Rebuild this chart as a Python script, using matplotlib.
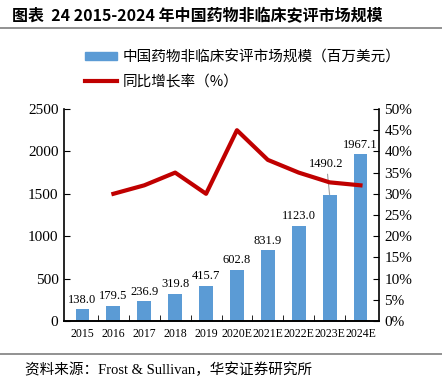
import matplotlib
matplotlib.use("Agg")
import matplotlib.pyplot as plt
from matplotlib.lines import Line2D

plt.rcParams['font.family'] = ['Liberation Serif', 'Noto Sans CJK SC']

years = ['2015', '2016', '2017', '2018', '2019', '2020E', '2021E', '2022E', '2023E', '2024E']
market = [138.0, 179.5, 236.9, 319.8, 415.7, 602.8, 831.9, 1123.0, 1490.2, 1967.1]
growth = [None, 30.0, 32.0, 35.0, 30.0, 45.0, 38.0, 35.0, 32.7, 32.0]

bar_label = '中国药物非临床安评市场规模（百万美元）'
line_label = '同比增长率（%）'
title = '图表  24 2015-2024 年中国药物非临床安评市场规模'
source = '资料来源：Frost & Sullivan，华安证券研究所'

cjk = ['Noto Sans CJK SC', 'DejaVu Sans']
serif_cjk = ['Liberation Serif', 'Noto Sans CJK SC']

fig = plt.figure(figsize=(4.42, 3.86), dpi=100)
ax = fig.add_axes([64 / 442, 1 - 321 / 386, (379 - 64) / 442, (321 - 109) / 386])
ax2 = ax.twinx()

x = list(range(len(years)))
ax.bar(x, market, width=0.45, color='#5B9BD5', zorder=2)
gx = [i for i, g in zip(x, growth) if g is not None]
gy = [g for g in growth if g is not None]
ax2.plot(gx, gy, color='#C00000', lw=3, zorder=3)

ax.set_ylim(0, 2500)
ax.set_yticks(range(0, 2501, 500))
ax2.set_ylim(0, 50)
ax2.set_yticks(range(0, 51, 5))
ax2.set_yticklabels([f'{v}%' for v in range(0, 51, 5)])
ax.set_xlim(-0.6, len(years) - 0.4)
ax.set_xticks(x)
ax.set_xticklabels(years)
ax.set_xticks([i + 0.5 for i in x[:-1]], minor=True)

for a in (ax, ax2):
    a.spines['top'].set_visible(False)
    for s in a.spines.values():
        s.set_linewidth(1.2)
ax.spines['right'].set_visible(False)
ax2.spines['left'].set_visible(False)
ax.tick_params(axis='y', direction='in', length=4, labelsize=11, pad=4)
ax2.tick_params(axis='y', direction='in', length=4, labelsize=11, pad=4)
ax.tick_params(axis='x', which='major', length=0, labelsize=8.5, pad=5)
ax.tick_params(axis='x', which='minor', direction='in', length=4)

# bar value labels
for i, v in enumerate(market):
    if years[i] == '2023E':
        ax.annotate(f'{v:.1f}', xy=(i, v), xytext=(i - 0.1, v + 290),
                    ha='center', va='bottom', fontsize=9,
                    arrowprops=dict(arrowstyle='-', color='#A0A0A0', lw=0.8,
                                    shrinkA=1, shrinkB=0))
    else:
        ax.text(i, v + 40, f'{v:.1f}', ha='center', va='bottom', fontsize=9)

# title and rules
fig.text(12 / 442, 1 - 16 / 386, title, fontsize=11.5, fontweight='bold',
         family=cjk, va='center', ha='left')
fig.add_artist(Line2D([0, 1], [1 - 28 / 386] * 2, color='#7F7F7F', lw=1.2))
fig.add_artist(Line2D([0, 1], [1 - 354 / 386] * 2, color='#7F7F7F', lw=1.2))
fig.text(25 / 442, 1 - 370 / 386, source, fontsize=10.5, family=serif_cjk,
         va='center', ha='left')

# legend
handles = [plt.Rectangle((0, 0), 1, 1, color='#5B9BD5'),
           Line2D([0], [0], color='#C00000', lw=3)]
fig.legend(handles, [bar_label, line_label], loc='upper left',
           bbox_to_anchor=(85 / 442, 1 - 50 / 386), frameon=False,
           prop={'family': cjk, 'size': 10.5}, handlelength=2.2, handleheight=0.5,
           handletextpad=0.4, labelspacing=0.75, borderaxespad=0, borderpad=0)

fig.savefig('out.png', dpi=100)
